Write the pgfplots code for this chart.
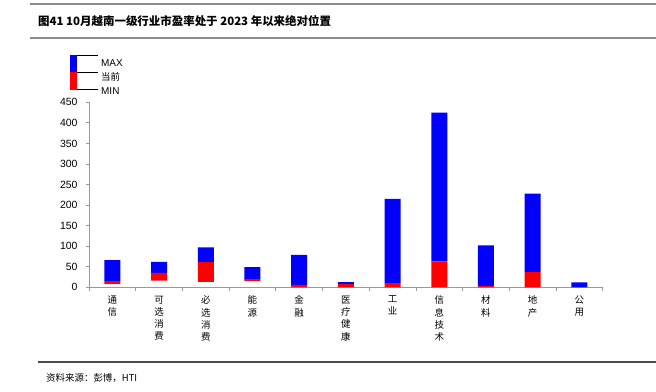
\documentclass[border=0pt]{standalone}
\usepackage{pgfplots}
\usepackage{pgfplotstable}
\pgfplotsset{compat=1.18}
\usepackage{fontspec}
\setmainfont{Liberation Sans}
\newfontfamily\cjk{Noto Sans CJK SC}
\definecolor{barblue}{RGB}{0,0,255}
\definecolor{barred}{RGB}{255,0,0}

\pgfplotstableread{
idx min cur max
0  8   15   66
1  16  35   62
2  13  61   97
3  15  20   49
4  0   6    79
5  0   7.5  12.5
6  0   10   215
7  0   63   425
8  0   3.5  102
9  0   37   228
10 0   0.4  12
}\pedata

\begin{document}
\begin{tikzpicture}[x=1bp,y=1bp]
\useasboundingbox (0,0) rectangle (656,391);
% header lines and title
\draw[black!45, line width=1.6bp] (30,387) -- (656,387);
\draw[black!45, line width=1.6bp] (30,353) -- (656,353);
\node[anchor=west, inner sep=0pt, font=\cjk\bfseries\fontsize{11.5}{13}\selectfont] at (38,369.5) {图41 10月越南一级行业市盈率处于 2023 年以来绝对位置};
% legend
\fill[barblue] (70,319) rectangle (77,336);
\fill[barred] (70,301) rectangle (77,319);
\draw[black, line width=0.7bp] (77,335.5) -- (98,335.5);
\draw[black, line width=0.7bp] (77,319) -- (98,319);
\draw[black, line width=0.7bp] (77,302) -- (98,302);
\node[anchor=west, inner sep=0pt, font=\fontsize{10}{12}\selectfont] at (101,328) {MAX};
\node[anchor=west, inner sep=0pt, font=\cjk\fontsize{9.5}{12}\selectfont] at (101,314) {当前};
\node[anchor=west, inner sep=0pt, font=\fontsize{10}{12}\selectfont] at (101,300) {MIN};
% footer
\draw[black!70, line width=1.2bp] (38,29) -- (656,29);
\node[anchor=west, inner sep=0pt, font=\cjk\fontsize{9.5}{12}\selectfont] at (46,13) {资料来源：彭博，HTI};

\begin{axis}[
  at={(89bp,103.7bp)}, anchor=south west,
  scale only axis, width=513.7bp, height=185bp,
  xmin=-0.5, xmax=10.5, ymin=0, ymax=450,
  axis x line=bottom, axis y line=left,
  axis line style={-, black!40, line width=0.8bp},
  ybar stacked, bar width=16bp,
  xtick={0,...,10},
  xticklabels={{通\\信},{可\\选\\消\\费},{必\\选\\消\\费},{能\\源},{金\\融},{医\\疗\\健\\康},{工\\业},{信\\息\\技\\术},{材\\料},{地\\产},{公\\用}},
  minor xtick={-0.5,0.5,...,10.5},
  every major x tick/.append style={draw=none},
  ytick={0,50,...,450},
  tick align=outside,
  major tick length=3bp, minor tick length=4bp,
  tick style={black!40, line width=0.8bp},
  xticklabel style={font=\cjk\fontsize{9.5}{12.3}\selectfont, align=center, anchor=north, yshift=-2bp},
  yticklabel style={font=\fontsize{10.5}{12}\selectfont, xshift=-5bp},
  /pgf/number format/assume math mode=true,
  clip=false,
]
\addplot[draw=none, fill=none] table[x=idx, y=min] {\pedata};
\addplot[draw=none, fill=barred] table[x=idx, y expr=\thisrow{cur}-\thisrow{min}] {\pedata};
\addplot[draw=none, fill=barblue] table[x=idx, y expr=\thisrow{max}-\thisrow{cur}] {\pedata};
\end{axis}
\end{tikzpicture}
\end{document}
